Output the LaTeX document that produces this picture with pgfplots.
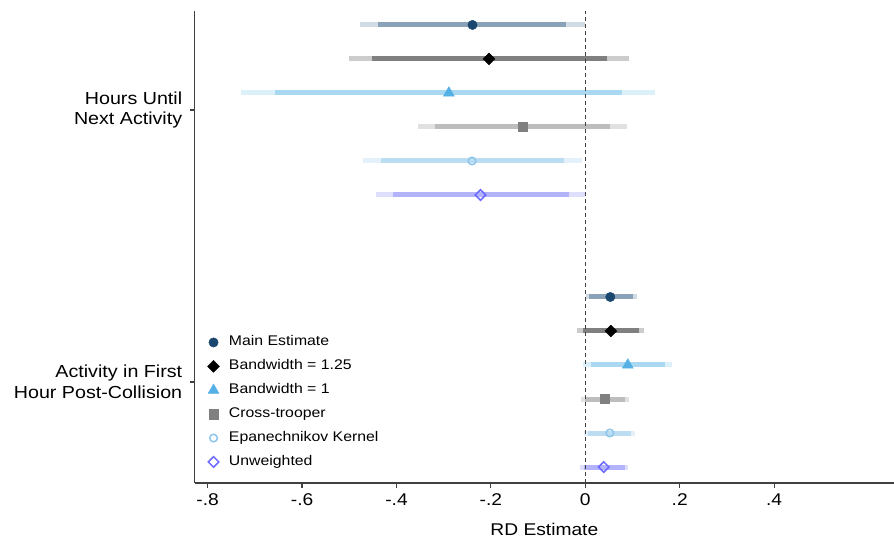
\documentclass[border=0pt]{standalone}
\usepackage{fontspec}
\setmainfont{Liberation Sans}[FakeStretch=1.13]
\usepackage{pgfplots}
\usepackage{pgfplotstable}
\pgfplotsset{compat=1.18}

% series colours: marker, 90% band, 95% band
\definecolor{mainM}{HTML}{1A476F}\definecolor{mainA}{HTML}{8AA2B8}\definecolor{mainB}{HTML}{D1DBE3}
\definecolor{bwaM}{HTML}{000000}\definecolor{bwaA}{HTML}{808080}\definecolor{bwaB}{HTML}{CCCCCC}
\definecolor{bwbM}{HTML}{55B1E5}\definecolor{bwbA}{HTML}{A8D8F2}\definecolor{bwbB}{HTML}{DCF0FA}
\definecolor{ctM}{HTML}{808080}\definecolor{ctA}{HTML}{BDBDBD}\definecolor{ctB}{HTML}{E1E1E1}
\definecolor{epM}{HTML}{8EC6EB}\definecolor{epA}{HTML}{BBDCF1}\definecolor{epB}{HTML}{E4F1FA}
\definecolor{uwM}{HTML}{6B6BFF}\definecolor{uwA}{HTML}{B3B3FB}\definecolor{uwB}{HTML}{DEDEFD}
\definecolor{axisgray}{HTML}{404040}

% rows: y = -row index; outcome 1 in rows 0-5, outcome 2 in rows 8-13
\pgfplotstableread{
y    est     lo95    hi95    lo90    hi90
0   -0.239  -0.477  -0.001  -0.439  -0.041
-8   0.053   0.001   0.110   0.008   0.101
}\mainest
\pgfplotstableread{
y    est     lo95    hi95    lo90    hi90
-1  -0.204  -0.501   0.092  -0.452   0.046
-9   0.054  -0.018   0.124  -0.004   0.114
}\bwonetwentyfive
\pgfplotstableread{
y    est     lo95    hi95    lo90    hi90
-2  -0.289  -0.729   0.148  -0.657   0.078
-10  0.090  -0.004   0.184   0.012   0.169
}\bwone
\pgfplotstableread{
y    est     lo95    hi95    lo90    hi90
-3  -0.133  -0.354   0.088  -0.318   0.052
-11  0.041  -0.009   0.093   0.000   0.084
}\crosstrooper
\pgfplotstableread{
y    est     lo95    hi95    lo90    hi90
-4  -0.240  -0.471  -0.007  -0.433  -0.045
-12  0.052  -0.002   0.105   0.006   0.097
}\epan
\pgfplotstableread{
y    est     lo95    hi95    lo90    hi90
-5  -0.222  -0.443   0.000  -0.407  -0.034
-13  0.039  -0.011   0.090  -0.003   0.084
}\unweighted

% confidence bands drawn as horizontal error bars
\newcommand\band[3]{%
  \addplot[draw=none, mark=none, forget plot,
    error bars/.cd, x dir=both, x explicit, error mark=none,
    error bar style={draw=#2, line width=5bp}]
    table[x=est, y=y,
      x error plus expr=\thisrow{hi#3}-\thisrow{est},
      x error minus expr=\thisrow{est}-\thisrow{lo#3}] {#1};}

\begin{document}
\begin{tikzpicture}
\useasboundingbox (0,0) rectangle (894bp,540bp);
\begin{axis}[
  at={(194.7bp,57bp)}, anchor=south west,
  scale only axis, width=699.3bp, height=472bp,
  xmin=-0.8275, xmax=0.654, ymin=-13.47, ymax=0.41,
  axis lines*=left,
  axis line style={-, draw=axisgray, line width=1.2bp},
  xtick pos=bottom, ytick pos=left,
  tick align=outside, major tick length=5bp,
  tick style={draw=axisgray, line width=1.2bp},
  xtick={-0.8,-0.6,-0.4,-0.2,0,0.2,0.4},
  xticklabels={-.8,-.6,-.4,-.2,0,.2,.4},
  xticklabel style={font=\fontsize{17bp}{18bp}\selectfont, yshift=-2.5bp},
  ytick={-2.5,-10.5},
  yticklabels={{Hours Until\\Next Activity},{Activity in First\\Hour Post-Collision}},
  yticklabel style={align=right, font=\fontsize{17.4bp}{20.5bp}\selectfont, xshift=-4bp},
  xlabel={RD Estimate},
  xlabel style={font=\fontsize{17bp}{18bp}\selectfont, yshift=-10bp},
  legend style={draw=none, fill=none, at={(axis cs:-0.8006,-9.14)}, anchor=north west,
    inner sep=0pt, column sep=9.5bp, row sep=10.9bp,
    font=\fontsize{14bp}{15bp}\selectfont,
    nodes={inner sep=0pt, text height=10bp, text depth=3bp}},
  legend cell align=left,
]
% 95% bands, then 90% bands
\band{\mainest}{mainB}{95}
\band{\bwonetwentyfive}{bwaB}{95}
\band{\bwone}{bwbB}{95}
\band{\crosstrooper}{ctB}{95}
\band{\epan}{epB}{95}
\band{\unweighted}{uwB}{95}
\band{\mainest}{mainA}{90}
\band{\bwonetwentyfive}{bwaA}{90}
\band{\bwone}{bwbA}{90}
\band{\crosstrooper}{ctA}{90}
\band{\epan}{epA}{90}
\band{\unweighted}{uwA}{90}
% reference line at zero
\addplot[forget plot, draw=axisgray, line width=1.3bp, dash pattern=on 4bp off 3bp]
  coordinates {(0,-13.47) (0,0.41)};
% point estimates
\addplot[only marks, mark=*, mark size=4.7bp, mark options={draw=mainM, fill=mainM}]
  table[x=est, y=y] {\mainest};
\addlegendentry{Main Estimate}
\addplot[only marks, mark=square*, mark size=4.2bp, mark options={rotate=45, draw=bwaM, fill=bwaM}]
  table[x=est, y=y] {\bwonetwentyfive};
\addlegendentry{Bandwidth = 1.25}
\addplot[only marks, mark=triangle*, mark size=6.3bp, mark options={draw=bwbM, fill=bwbM}]
  table[x=est, y=y] {\bwone};
\addlegendentry{Bandwidth = 1}
\addplot[only marks, mark=square*, mark size=4.6bp, mark options={draw=ctM, fill=ctM}]
  table[x=est, y=y] {\crosstrooper};
\addlegendentry{Cross-trooper}
\addplot[only marks, mark=o, mark size=3.8bp, mark options={draw=epM, line width=1.5bp}]
  table[x=est, y=y] {\epan};
\addlegendentry{Epanechnikov Kernel}
\addplot[only marks, mark=square, mark size=3.7bp, mark options={rotate=45, draw=uwM, line width=1.5bp}]
  table[x=est, y=y] {\unweighted};
\addlegendentry{Unweighted}
\end{axis}
\end{tikzpicture}
\end{document}
